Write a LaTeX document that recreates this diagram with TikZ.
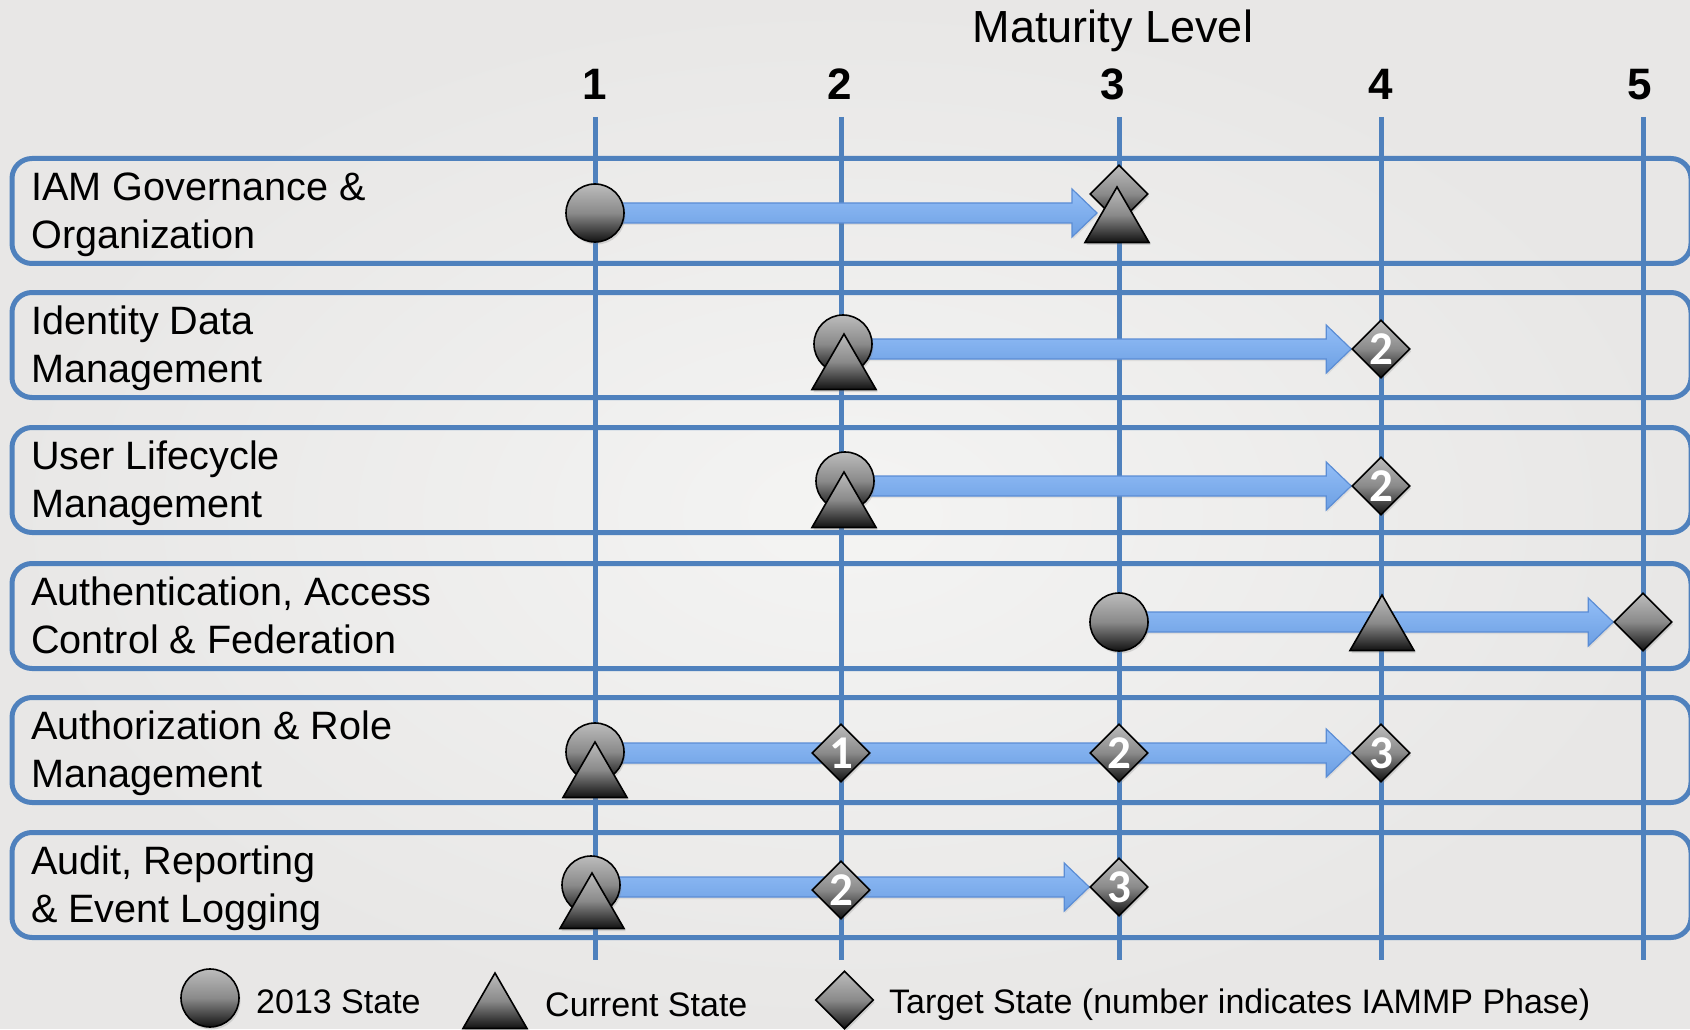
\documentclass[tikz,border=0pt]{standalone}
\usepackage{fontspec}
\setmainfont{Liberation Sans}
\newfontfamily\numfont{Carlito}
\usetikzlibrary{shapes.geometric,calc,shadows}
\definecolor{gridblue}{HTML}{4F81BD}
\definecolor{arrtop}{HTML}{93BEF7}
\definecolor{arrbot}{HTML}{6C9FE3}
\definecolor{arredge}{HTML}{5B8DD5}
\definecolor{mtop}{HTML}{BCBCBC}
\definecolor{mmid}{HTML}{8A8A8A}
\definecolor{mbot}{HTML}{121212}
\definecolor{bgin}{HTML}{F4F4F3}
\definecolor{bgout}{HTML}{E8E7E6}
\pgfdeclarelayer{bglayer}
\pgfdeclarelayer{arrowlayer}
\pgfsetlayers{bglayer,arrowlayer,main}
\tikzset{
  marker/.style={draw=black, line width=1.6pt, top color=mtop, bottom color=mbot, middle color=mmid,
    drop shadow={shadow xshift=1.5pt, shadow yshift=-2.5pt, opacity=0.25}},
  oldstate/.style={marker, circle, minimum size=58pt, inner sep=0pt},
  curstate/.style={marker, regular polygon, regular polygon sides=3, minimum size=74pt, inner sep=0pt},
  tgtstate/.style={marker, diamond, minimum width=58pt, minimum height=58pt, inner sep=0pt,
    text=white, font=\numfont\bfseries\fontsize{47}{47}\selectfont},
  rowbox/.style={draw=gridblue, line width=5pt, rounded corners=20pt},
  levelline/.style={draw=gridblue, line width=5pt},
  rowlabel/.style={anchor=west, inner sep=0pt, align=left, font=\fontsize{39.6}{48}\selectfont},
  levelnum/.style={anchor=base, inner sep=0pt, font=\bfseries\fontsize{44}{44}\selectfont},
  legendtext/.style={anchor=base west, inner sep=0pt, font=\fontsize{34}{40}\selectfont},
  fatarrow/.style={top color=arrtop, bottom color=arrbot, draw=arredge, line width=1.2pt, line join=miter,
    drop shadow={shadow xshift=1pt, shadow yshift=-2pt, opacity=0.15}}
}
\newcommand\fatarrow[2]{%
  \path[fatarrow] let \p1=(#1.center), \p2=(#2) in
    (\x1,\y2+10pt) -- (\x2-25pt,\y2+10pt) -- (\x2-25pt,\y2+24pt) -- (\x2,\y2)
    -- (\x2-25pt,\y2-24pt) -- (\x2-25pt,\y2-10pt) -- (\x1,\y2-10pt) -- cycle;}
\begin{document}
\begin{tikzpicture}[x=1pt,y=-1pt]
\begin{pgfonlayer}{bglayer}
  \shade[inner color=bgin, outer color=bgout] (0,0) rectangle (1690,1028);
  \useasboundingbox (0,0) rectangle (1690,1028);
  % row boxes
  \foreach \yc in {211,345,480,616,750,885}{
    \draw[rowbox] (12,\yc-52.5) rectangle (1691,\yc+52.5);
  }
  % level lines
  \foreach \xl in {595,841,1119,1381,1643}{
    \draw[levelline] (\xl,117) -- (\xl,960);
  }
\end{pgfonlayer}

% title and level numbers
\node[anchor=base, inner sep=0pt, font=\fontsize{45}{45}\selectfont] (title) at (1113,43) {Maturity Level};
\node[levelnum] (n1) at (595,100) {1};
\node[levelnum] (n2) at (840,100) {2};
\node[levelnum] (n3) at (1113,100) {3};
\node[levelnum] (n4) at (1381,100) {4};
\node[levelnum] (n5) at (1640,100) {5};

% row labels
\node[rowlabel] (r1) at (31,215) {\strut IAM Governance \&\\\strut Organization};
\node[rowlabel] (r2) at (31,349) {\strut Identity Data\\\strut Management};
\node[rowlabel] (r3) at (31,484) {\strut User Lifecycle\\\strut Management};
\node[rowlabel] (r4) at (31,620) {\strut Authentication, Access\\\strut Control \& Federation};
\node[rowlabel] (r5) at (31,754) {\strut Authorization \& Role\\\strut Management};
\node[rowlabel] (r6) at (31,889) {\strut Audit, Reporting\\\strut \& Event Logging};

% row 1
\node[oldstate] (c1) at (595,213) {};
\node[tgtstate] (d1) at (1119,194) {};
\node[curstate] (t1) at (1117,224) {};
\coordinate (tip1) at (1097,213);
% row 2
\node[oldstate] (c2) at (843,344) {};
\node[curstate] (t2) at (844,371) {};
\node[tgtstate] (d2) at (1381,349) {2};
% row 3
\node[oldstate] (c3) at (845,481) {};
\node[curstate] (t3) at (844,509) {};
\node[tgtstate] (d3) at (1381,486) {2};
% row 4
\node[oldstate] (c4) at (1119,622) {};
\node[tgtstate] (d4) at (1643,622) {};
% row 5
\node[oldstate] (c5) at (595,752) {};
\node[curstate] (t5) at (595,779) {};
\node[tgtstate] (d5a) at (841,753) {1};
\node[tgtstate] (d5b) at (1119,753) {2};
\node[tgtstate] (d5c) at (1381,753) {3};
% row 6
\node[oldstate] (c6) at (591,885) {};
\node[curstate] (t6) at (592,910) {};
\node[tgtstate] (d6a) at (841,890) {2};
\node[tgtstate] (d6b) at (1119,887) {3};

\begin{pgfonlayer}{arrowlayer}
  \fatarrow{c1}{tip1}
  \fatarrow{c2}{d2.west}
  \fatarrow{c3}{d3.west}
  \fatarrow{c4}{d4.west}
  \fatarrow{c5}{d5c.west}
  \fatarrow{c6}{d6b.west}
\end{pgfonlayer}
% triangle of row 4 sits on top of the arrow
\node[curstate] (t4) at (1382,632) {};

% legend
\node[oldstate] (lc) at (210,998) {};
\node[legendtext] (lct) at (256,1013) {2013 State};
\node[curstate] (lt) at (495,1010) {};
\node[legendtext] (ltt) at (545,1016) {Current State};
\node[tgtstate] (ld) at (844.5,1000) {};
\node[legendtext] (ldt) at (889,1013) {Target State (number indicates IAMMP Phase)};
\end{tikzpicture}
\end{document}
